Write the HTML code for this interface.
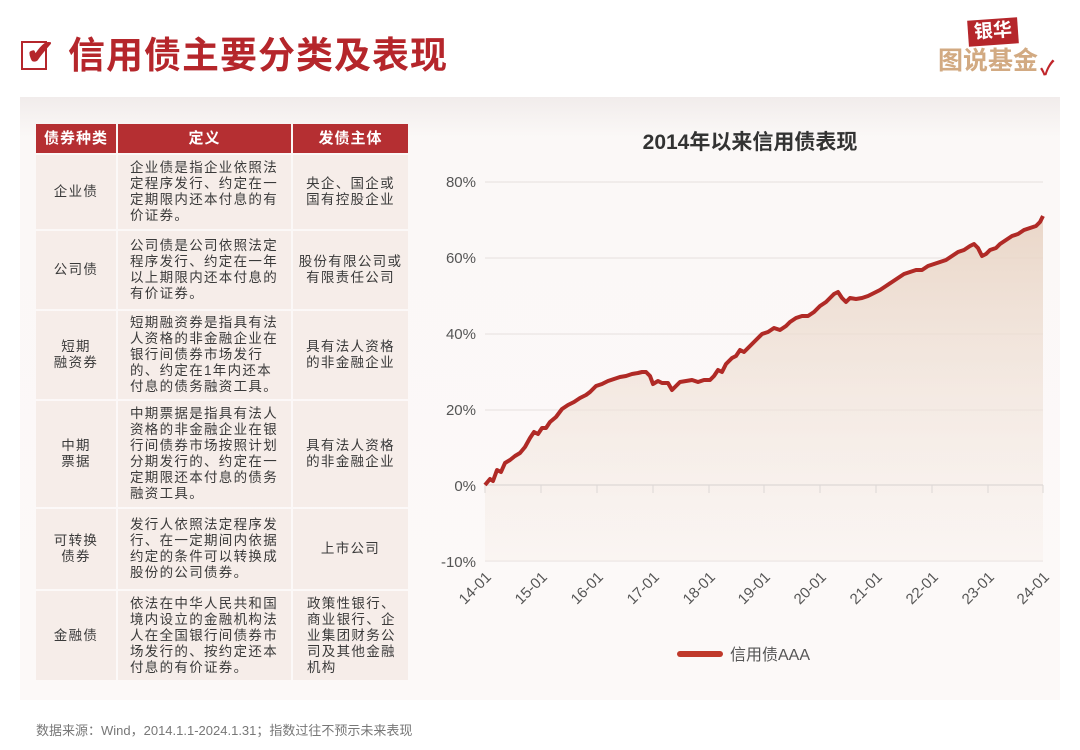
<!DOCTYPE html>
<html><head><meta charset="utf-8"><style>
*{margin:0;padding:0;box-sizing:border-box}
body{width:1080px;height:750px;background:#fff;position:relative;overflow:hidden;font-family:"Liberation Sans","Noto Sans CJK SC",sans-serif;color:#333}
.a{position:absolute}
.panel{left:20px;top:97px;width:1040px;height:603px;background:linear-gradient(#f1eceb,#fbf8f7 40px,#fcf9f8)}
.c{position:absolute;background:#f6ede9;font-size:13.5px;line-height:16px;color:#3a3a3a;display:flex;align-items:center;justify-content:center;white-space:nowrap;letter-spacing:1.3px}
.h{background:#b52f32;color:#fff;font-weight:bold;font-size:15px;letter-spacing:1px}
.t{justify-content:flex-start;padding-left:12px}
.m{text-align:center}
</style></head><body>
<div class="a" style="left:21px;top:41px;width:26px;height:29px;border:2.5px solid #b5262b"></div>
<div class="a" style="left:26px;top:35px;font-size:34px;color:#b5262b;font-weight:bold;line-height:36px">✔</div>
<div class="a" style="left:68px;top:34px;font-size:37px;font-weight:bold;color:#b5262b;line-height:44px;letter-spacing:1px">信用债主要分类及表现</div>
<div class="a" style="left:968px;top:19px;background:#b5262b;color:#fff;font-size:19px;font-weight:bold;padding:0 6px;line-height:26px;transform:rotate(-4deg)">银华</div>
<div class="a" style="left:938px;top:46px;color:#d2aa82;font-size:25px;font-weight:bold;line-height:30px">图说基金</div>
<div class="a" style="left:1040px;top:52px;color:#c0262b;font-size:20px;font-weight:bold">✓</div>
<div class="a panel"></div>

<div class="c h" style="left:36px;top:124px;width:80px;height:29px">债券种类</div>
<div class="c h" style="left:118px;top:124px;width:173px;height:29px">定义</div>
<div class="c h" style="left:293px;top:124px;width:115px;height:29px">发债主体</div>

<div class="c m" style="left:36px;top:155px;width:80px;height:74px">企业债</div>
<div class="c t" style="left:118px;top:155px;width:173px;height:74px">企业债是指企业依照法<br>定程序发行、约定在一<br>定期限内还本付息的有<br>价证券。</div>
<div class="c m" style="left:293px;top:155px;width:115px;height:74px">央企、国企或<br>国有控股企业</div>

<div class="c m" style="left:36px;top:231px;width:80px;height:78px">公司债</div>
<div class="c t" style="left:118px;top:231px;width:173px;height:78px">公司债是公司依照法定<br>程序发行、约定在一年<br>以上期限内还本付息的<br>有价证券。</div>
<div class="c m" style="left:293px;top:231px;width:115px;height:78px">股份有限公司或<br>有限责任公司</div>

<div class="c m" style="left:36px;top:311px;width:80px;height:88px">短期<br>融资券</div>
<div class="c t" style="left:118px;top:311px;width:173px;height:88px">短期融资券是指具有法<br>人资格的非金融企业在<br>银行间债券市场发行<br>的、约定在1年内还本<br>付息的债务融资工具。</div>
<div class="c m" style="left:293px;top:311px;width:115px;height:88px">具有法人资格<br>的非金融企业</div>

<div class="c m" style="left:36px;top:401px;width:80px;height:106px">中期<br>票据</div>
<div class="c t" style="left:118px;top:401px;width:173px;height:106px">中期票据是指具有法人<br>资格的非金融企业在银<br>行间债券市场按照计划<br>分期发行的、约定在一<br>定期限还本付息的债务<br>融资工具。</div>
<div class="c m" style="left:293px;top:401px;width:115px;height:106px">具有法人资格<br>的非金融企业</div>

<div class="c m" style="left:36px;top:509px;width:80px;height:80px">可转换<br>债券</div>
<div class="c t" style="left:118px;top:509px;width:173px;height:80px">发行人依照法定程序发<br>行、在一定期间内依据<br>约定的条件可以转换成<br>股份的公司债券。</div>
<div class="c m" style="left:293px;top:509px;width:115px;height:80px">上市公司</div>

<div class="c m" style="left:36px;top:591px;width:80px;height:89px">金融债</div>
<div class="c t" style="left:118px;top:591px;width:173px;height:89px">依法在中华人民共和国<br>境内设立的金融机构法<br>人在全国银行间债券市<br>场发行的、按约定还本<br>付息的有价证券。</div>
<div class="c t" style="left:293px;top:591px;width:115px;height:89px;padding-left:14px">政策性银行、<br>商业银行、企<br>业集团财务公<br>司及其他金融<br>机构</div>

<div class="a" style="left:600px;top:126px;width:300px;text-align:center;font-size:21px;font-weight:bold;color:#333">2014年以来信用债表现</div>

<svg class="a" style="left:0;top:0" width="1080" height="750">
<defs><linearGradient id="g" x1="0" y1="0" x2="0" y2="1"><stop offset="0" stop-color="#e8d3c3" stop-opacity=".9"/><stop offset="1" stop-color="#f7efea" stop-opacity=".4"/></linearGradient></defs>
<g stroke="#e6e0de" stroke-width="1">
<line x1="485" y1="182" x2="1043" y2="182"/><line x1="485" y1="258" x2="1043" y2="258"/><line x1="485" y1="334" x2="1043" y2="334"/><line x1="485" y1="410" x2="1043" y2="410"/><line x1="485" y1="561" x2="1043" y2="561"/>
</g>
<path d="M485,485 L490,479 493,481 497,470 501,472 505,463 510,460 515,456 520,453 525,447 530,438 534,432 538,434 542,428 546,428 550,422 556,417 562,409 568,405 574,402 580,398 586,395 590,392 596,386 602,384 608,381 614,379 620,377 626,376 632,374 638,373 642,372 646,372 650,376 653,384 658,381 662,383 668,383 672,390 676,386 680,382 686,381 692,380 698,382 704,380 710,380 714,376 718,370 722,372 726,364 732,358 736,356 740,350 744,352 750,346 756,340 762,334 768,332 774,328 780,330 786,326 790,322 796,318 802,316 808,316 814,312 820,306 826,302 830,298 834,294 838,292 842,298 846,302 850,298 856,299 862,298 868,296 874,293 880,290 886,286 892,282 898,278 904,274 910,272 916,270 922,270 928,266 934,264 940,262 946,260 952,256 958,252 964,250 970,246 974,244 978,248 982,256 986,254 990,250 996,248 1000,244 1006,240 1012,236 1018,234 1024,230 1030,228 1036,226 1040,222 1043,216 L1043,561 L485,561 Z" fill="url(#g)"/>
<line x1="485" y1="485" x2="1043" y2="485" stroke="#e2dcda" stroke-width="1.5"/>
<g stroke="#ddd7d5" stroke-width="1">
<line x1="485" y1="485" x2="485" y2="493"/><line x1="541" y1="485" x2="541" y2="493"/><line x1="597" y1="485" x2="597" y2="493"/><line x1="653" y1="485" x2="653" y2="493"/><line x1="709" y1="485" x2="709" y2="493"/><line x1="764" y1="485" x2="764" y2="493"/><line x1="820" y1="485" x2="820" y2="493"/><line x1="876" y1="485" x2="876" y2="493"/><line x1="932" y1="485" x2="932" y2="493"/><line x1="988" y1="485" x2="988" y2="493"/><line x1="1043" y1="485" x2="1043" y2="493"/>
</g>
<path fill="none" stroke="#b02a26" stroke-width="4" stroke-linejoin="round" d="M485,485 L490,479 493,481 497,470 501,472 505,463 510,460 515,456 520,453 525,447 530,438 534,432 538,434 542,428 546,428 550,422 556,417 562,409 568,405 574,402 580,398 586,395 590,392 596,386 602,384 608,381 614,379 620,377 626,376 632,374 638,373 642,372 646,372 650,376 653,384 658,381 662,383 668,383 672,390 676,386 680,382 686,381 692,380 698,382 704,380 710,380 714,376 718,370 722,372 726,364 732,358 736,356 740,350 744,352 750,346 756,340 762,334 768,332 774,328 780,330 786,326 790,322 796,318 802,316 808,316 814,312 820,306 826,302 830,298 834,294 838,292 842,298 846,302 850,298 856,299 862,298 868,296 874,293 880,290 886,286 892,282 898,278 904,274 910,272 916,270 922,270 928,266 934,264 940,262 946,260 952,256 958,252 964,250 970,246 974,244 978,248 982,256 986,254 990,250 996,248 1000,244 1006,240 1012,236 1018,234 1024,230 1030,228 1036,226 1040,222 1043,216"/>
<g font-size="15" fill="#555" text-anchor="end" font-family="Liberation Sans,sans-serif">
<text x="476" y="187">80%</text><text x="476" y="263">60%</text><text x="476" y="339">40%</text><text x="476" y="415">20%</text><text x="476" y="491">0%</text><text x="476" y="567">-10%</text>
</g>
<g font-size="15" fill="#555" text-anchor="end" font-family="Liberation Sans,sans-serif">
<text transform="translate(492,578) rotate(-45)">14-01</text><text transform="translate(548,578) rotate(-45)">15-01</text><text transform="translate(604,578) rotate(-45)">16-01</text><text transform="translate(660,578) rotate(-45)">17-01</text><text transform="translate(716,578) rotate(-45)">18-01</text><text transform="translate(771,578) rotate(-45)">19-01</text><text transform="translate(827,578) rotate(-45)">20-01</text><text transform="translate(883,578) rotate(-45)">21-01</text><text transform="translate(939,578) rotate(-45)">22-01</text><text transform="translate(995,578) rotate(-45)">23-01</text><text transform="translate(1050,578) rotate(-45)">24-01</text>
</g>
<line x1="680" y1="654" x2="720" y2="654" stroke="#c0392b" stroke-width="6" stroke-linecap="round"/>
<text x="730" y="660" font-size="16" fill="#555" font-family="Liberation Sans,Noto Sans CJK SC,sans-serif">信用债AAA</text>
</svg>
<div class="a" style="left:36px;top:720px;font-size:13px;color:#777">数据来源：Wind，2014.1.1-2024.1.31；指数过往不预示未来表现</div>
</body></html>
